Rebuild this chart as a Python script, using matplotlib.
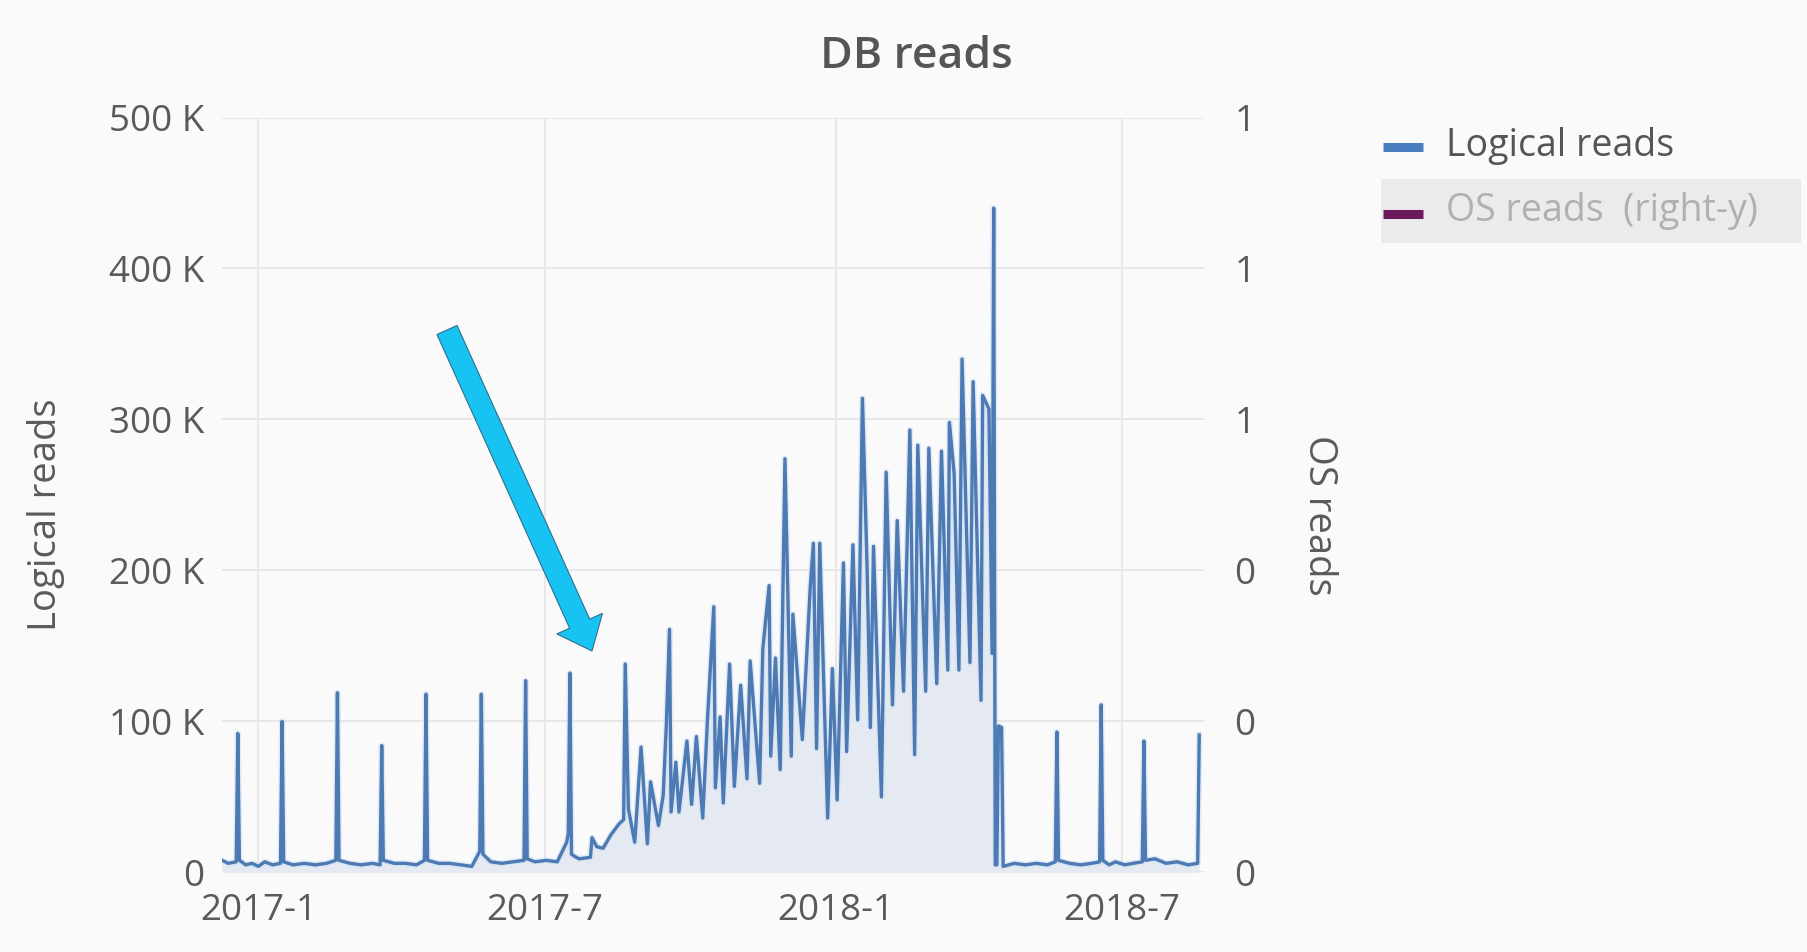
import matplotlib
matplotlib.use("Agg")
import matplotlib.pyplot as plt
import numpy as np
import pandas as pd
from matplotlib.patches import FancyArrow, Rectangle
from matplotlib.lines import Line2D
from matplotlib.transforms import IdentityTransform
from matplotlib.ticker import FixedLocator, FuncFormatter

plt.rcParams['font.family'] = ['Open Sans', 'DejaVu Sans']

# ---------------- data (values in thousands) ----------------
dates = [
    "2016-12-09", "2016-12-13", "2016-12-18", "2016-12-19", "2016-12-20", "2016-12-24",
    "2016-12-28", "2017-01-01", "2017-01-05", "2017-01-10", "2017-01-15", "2017-01-16",
    "2017-01-17", "2017-01-23", "2017-01-30", "2017-02-06", "2017-02-13", "2017-02-19",
    "2017-02-20", "2017-02-21", "2017-02-28", "2017-03-07", "2017-03-14", "2017-03-19",
    "2017-03-20", "2017-03-21", "2017-03-28", "2017-04-04", "2017-04-11", "2017-04-16",
    "2017-04-17", "2017-04-18", "2017-04-25", "2017-05-02", "2017-05-09", "2017-05-16",
    "2017-05-21", "2017-05-22", "2017-05-23", "2017-05-28", "2017-06-04", "2017-06-11",
    "2017-06-18", "2017-06-19", "2017-06-20", "2017-06-25", "2017-07-02", "2017-07-09",
    "2017-07-15", "2017-07-16", "2017-07-17", "2017-07-18", "2017-07-21", "2017-07-23",
    "2017-07-30", "2017-07-31", "2017-08-03", "2017-08-07", "2017-08-12", "2017-08-17",
    "2017-08-20", "2017-08-21", "2017-08-23", "2017-08-27", "2017-08-31", "2017-09-04",
    "2017-09-06", "2017-09-11", "2017-09-14", "2017-09-16", "2017-09-18", "2017-09-19",
    "2017-09-22", "2017-09-24", "2017-09-29", "2017-10-02", "2017-10-05", "2017-10-09",
    "2017-10-12", "2017-10-16", "2017-10-17", "2017-10-20", "2017-10-22", "2017-10-26",
    "2017-10-29", "2017-11-02", "2017-11-06", "2017-11-08", "2017-11-14", "2017-11-16",
    "2017-11-20", "2017-11-21", "2017-11-24", "2017-11-27", "2017-11-30", "2017-12-04",
    "2017-12-05", "2017-12-11", "2017-12-16", "2017-12-18", "2017-12-20", "2017-12-22",
    "2017-12-27", "2017-12-30", "2018-01-02", "2018-01-06", "2018-01-08", "2018-01-12",
    "2018-01-15", "2018-01-18", "2018-01-21", "2018-01-23", "2018-01-25", "2018-01-30",
    "2018-02-02", "2018-02-06", "2018-02-09", "2018-02-13", "2018-02-17", "2018-02-20",
    "2018-02-22", "2018-02-27", "2018-03-01", "2018-03-06", "2018-03-09", "2018-03-13",
    "2018-03-14", "2018-03-17", "2018-03-20", "2018-03-22", "2018-03-27", "2018-03-29",
    "2018-04-03", "2018-04-04", "2018-04-08", "2018-04-10", "2018-04-11", "2018-04-12",
    "2018-04-13", "2018-04-14", "2018-04-16", "2018-04-17", "2018-04-24", "2018-05-01",
    "2018-05-08", "2018-05-15", "2018-05-20", "2018-05-21", "2018-05-22", "2018-05-29",
    "2018-06-05", "2018-06-12", "2018-06-17", "2018-06-18", "2018-06-19", "2018-06-23",
    "2018-06-27", "2018-07-03", "2018-07-08", "2018-07-14", "2018-07-15", "2018-07-16",
    "2018-07-22", "2018-07-29", "2018-08-05", "2018-08-12", "2018-08-18", "2018-08-19",
]
logical_reads_k = [
    8, 6, 7, 92, 8, 5,
    6, 4, 7, 5, 6, 100,
    7, 5, 6, 5, 6, 8,
    119, 8, 6, 5, 6, 5,
    84, 8, 6, 6, 5, 8,
    118, 8, 6, 6, 5, 4,
    14, 118, 12, 7, 6, 7,
    8, 127, 9, 7, 8, 7,
    20, 26, 132, 12, 10, 9,
    10, 23, 17, 16, 25, 32,
    35, 138, 42, 20, 83, 19,
    60, 31, 51, 98, 161, 40,
    73, 40, 87, 45, 90, 36,
    101, 176, 56, 103, 46, 138,
    57, 124, 62, 140, 59, 148,
    190, 77, 142, 68, 274, 77,
    171, 88, 189, 218, 82, 218,
    36, 135, 48, 205, 80, 217,
    101, 314, 200, 96, 216, 50,
    265, 111, 233, 120, 293, 78,
    283, 120, 281, 125, 279, 134,
    298, 264, 134, 340, 139, 325,
    114, 316, 307, 145, 440, 5,
    5, 97, 96, 4, 6, 5,
    6, 5, 7, 93, 8, 6,
    5, 6, 7, 111, 8, 5,
    7, 5, 6, 7, 87, 8,
    9, 6, 7, 5, 6, 91,
]

left_ticks = [0, 100000, 200000, 300000, 400000, 500000]
left_tick_labels = ["0", "100 K", "200 K", "300 K", "400 K", "500 K"]
x_tick_dates = ["2017-01-01", "2017-07-01", "2018-01-01", "2018-07-01"]
x_tick_labels = ["2017-1", "2017-7", "2018-1", "2018-7"]
right_ticks = [0, 0.2, 0.4, 0.6, 0.8, 1.0]
series_names = ["Logical reads", "OS reads  (right-y)"]

# ---------------- figure ----------------
W, H = 1807, 952
BG = '#fafafa'
fig = plt.figure(figsize=(W / 100, H / 100), dpi=100, facecolor=BG)

ax_l, ax_r, ax_t, ax_b = 222, 1204, 117.5, 872.4
ax = fig.add_axes([ax_l / W, 1 - ax_b / H, (ax_r - ax_l) / W, (ax_b - ax_t) / H])
ax.set_facecolor(BG)

x = pd.to_datetime(dates)
y = np.array(logical_reads_k, dtype=float) * 1000

ax.fill_between(x, y, 0, color='#e5eaf2', lw=0, zorder=2)
ax.plot(x, y, color='#cfe0f5', lw=4.5, alpha=0.6, zorder=3)
ax.plot(x, y, color='#4d7ab3', lw=2.4, zorder=4)

ax.set_ylim(0, 500000)
ax.set_xlim(pd.Timestamp("2016-12-09"), pd.Timestamp("2018-08-22"))

ax.yaxis.set_major_locator(FixedLocator(left_ticks))
ax.set_yticklabels(left_tick_labels)
ax.set_xticks(pd.to_datetime(x_tick_dates))
ax.set_xticklabels(x_tick_labels)

ax.grid(True, color='#e6e6e6', lw=1.3, zorder=0)
ax.set_axisbelow(True)
for s in ax.spines.values():
    s.set_visible(False)
ax.tick_params(axis='y', length=0, pad=13, labelsize=26.5, labelcolor='#5a5a5a')
ax.tick_params(axis='x', length=0, pad=15, labelsize=26.5, labelcolor='#5a5a5a')

# right axis (OS reads, hidden series)
ax2 = ax.twinx()
ax2.set_ylim(0, 1)
ax2.yaxis.set_major_locator(FixedLocator(right_ticks))
ax2.yaxis.set_major_formatter(FuncFormatter(lambda v, p: f"{v:.0f}"))
for s in ax2.spines.values():
    s.set_visible(False)
ax2.tick_params(axis='y', length=0, pad=22, labelsize=26.5, labelcolor='#5a5a5a')

# title and axis labels
fig.text(916 / W, 1 - 57 / H, "DB reads", ha='center', va='center',
         fontsize=32, fontweight='semibold', color='#555555')
fig.text(46 / W, 1 - 515 / H, "Logical reads", rotation=90, ha='center', va='center',
         fontsize=27.5, color='#5a5a5a')
fig.text(1319 / W, 1 - 515 / H, "OS reads", rotation=270, ha='center', va='center',
         fontsize=27.5, color='#5a5a5a')

# legend (drawn manually)
fig.add_artist(Rectangle((1381 / W, 1 - 243 / H), 420 / W, 64 / H,
                         transform=fig.transFigure, facecolor='#ebebeb', edgecolor='none'))
fig.add_artist(Line2D([1383 / W, 1423 / W], [1 - 147 / H, 1 - 147 / H],
                      transform=fig.transFigure, color='#4a7dbf', lw=6.5, solid_capstyle='butt'))
fig.text(1446 / W, 1 - 146 / H, series_names[0], ha='left', va='center',
         fontsize=27, color='#555555')
fig.add_artist(Line2D([1383 / W, 1423 / W], [1 - 214 / H, 1 - 214 / H],
                      transform=fig.transFigure, color='#6b1b5c', lw=6.5, solid_capstyle='butt'))
fig.text(1446 / W, 1 - 211 / H, series_names[1], ha='left', va='center',
         fontsize=27, color='#b0b0b0')

# annotation arrow (pixel coordinates)
arrow = FancyArrow(447, H - 330, 145, -321, width=22, head_width=50, head_length=30,
                   length_includes_head=True, transform=IdentityTransform(),
                   facecolor='#17c3f3', edgecolor='#2f6f8c', lw=0.8, zorder=10)
fig.add_artist(arrow)

fig.savefig("out.png", dpi=100, facecolor=BG)
